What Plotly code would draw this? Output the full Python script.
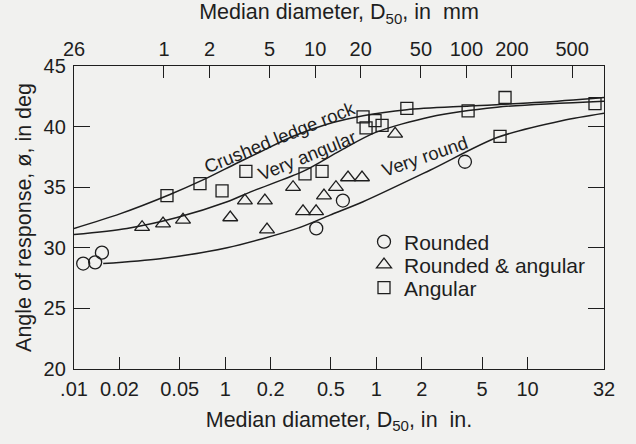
import math
import plotly.graph_objects as go

# ---- data (D50 in inches, angle in degrees) ----
rounded_x = [0.0115, 0.0138, 0.0153, 0.40, 0.60, 3.85]
rounded_y = [28.7, 28.8, 29.6, 31.6, 33.9, 37.1]

mixed_x = [0.0282, 0.0388, 0.0526, 0.108, 0.135, 0.183, 0.189, 0.281, 0.327, 0.399, 0.450, 0.540, 0.649, 0.803, 1.33]
mixed_y = [31.7, 32.0, 32.3, 32.5, 33.9, 33.9, 31.5, 35.0, 33.0, 33.0, 34.3, 35.0, 35.8, 35.8, 39.4]

angular_x = [0.0412, 0.0681, 0.0953, 0.137, 0.337, 0.437, 0.816, 0.979, 0.854, 1.09, 1.59, 4.04, 7.09, 6.57, 27.9]
angular_y = [34.3, 35.3, 34.7, 36.3, 36.1, 36.3, 40.8, 40.5, 39.9, 40.1, 41.5, 41.3, 42.4, 39.2, 41.9]

crushed_x = [0.01, 0.0201, 0.0431, 0.0713, 0.120, 0.170, 0.281, 0.471, 0.816, 1.59, 4.16, 12.1, 32.0]
crushed_y = [31.6, 32.8, 34.4, 35.6, 37.0, 37.9, 39.2, 40.2, 40.9, 41.4, 41.7, 42.0, 42.4]

vangular_x = [0.01, 0.0224, 0.0480, 0.103, 0.153, 0.327, 0.574, 0.979, 2.26, 6.28, 32.0]
vangular_y = [31.1, 31.6, 32.5, 33.8, 34.7, 36.3, 38.0, 39.5, 40.8, 41.6, 42.1]

vround_x = [0.0156, 0.0371, 0.103, 0.299, 0.493, 0.816, 2.26, 6.28, 17.1, 32.0]
vround_y = [28.7, 29.1, 30.0, 31.6, 32.7, 33.8, 36.4, 39.1, 40.5, 41.1]

in_ticks = [0.01, 0.02, 0.05, 0.1, 0.2, 0.5, 1, 2, 5, 10, 32]
in_labels = [".01", "0.02", "0.05", "1", "0.2", "0.5", "1", "2", "5", "10", "32"]
mm_ticks = [0.254, 1, 2, 5, 10, 20, 50, 100, 200, 500]
mm_labels = ["26", "1", "2", "5", "10", "20", "50", "100", "200", "500"]
y_ticks = [20, 25, 30, 35, 40, 45]

INK = "#1e1e1e"
BG = "#f1f1ef"
FONT = "Liberation Sans, Arial, sans-serif"

fig = go.Figure()

line_style = dict(color=INK, width=1.5, shape="spline", smoothing=0.8)
for xs, ys in [(crushed_x, crushed_y), (vangular_x, vangular_y), (vround_x, vround_y)]:
    fig.add_trace(go.Scatter(x=xs, y=ys, mode="lines", line=line_style,
                             showlegend=False, hoverinfo="skip"))

mk_line = dict(width=1.3, color=INK)
fig.add_trace(go.Scatter(x=rounded_x, y=rounded_y, mode="markers", name="Rounded", legend="legend",
                         marker=dict(symbol="circle-open", size=13, color=INK, line=mk_line)))
fig.add_trace(go.Scatter(x=mixed_x, y=mixed_y, mode="markers", name="Rounded & angular", legend="legend2",
                         marker=dict(symbol="triangle-up-open", size=13, color=INK, line=mk_line)))
fig.add_trace(go.Scatter(x=angular_x, y=angular_y, mode="markers", name="Angular", legend="legend3",
                         marker=dict(symbol="square-open", size=12, color=INK, line=mk_line)))

# dummy trace so the top (mm) axis is drawn
fig.add_trace(go.Scatter(x=mm_ticks, y=[None] * len(mm_ticks), xaxis="x2", mode="lines",
                         showlegend=False, hoverinfo="skip"))

axis_common = dict(showgrid=False, zeroline=False, showline=True, linecolor=INK, linewidth=1.3,
                   ticks="inside", tickcolor=INK, tickwidth=1.3,
                   tickfont=dict(family=FONT, size=20, color=INK))

L, R, T, B = 74, 604, 66, 369
W, H = R - L, B - T


def px(x):
    return (x - L) / W


def py(y):
    return (B - y) / H


legend_common = dict(xanchor="left", yanchor="middle", bgcolor="rgba(0,0,0,0)",
                     font=dict(family=FONT, size=21, color=INK), itemwidth=30, borderwidth=0)

fig.update_layout(
    width=636, height=444,
    margin=dict(l=L, r=636 - R, t=T, b=444 - B, autoexpand=False),
    paper_bgcolor=BG, plot_bgcolor=BG,
    font=dict(family=FONT, color=INK, size=20),
    xaxis=dict(type="log", range=[-2, math.log10(32)], tickvals=in_ticks, ticktext=in_labels,
               ticklen=12, ticklabelstandoff=2,
               title=dict(text="Median diameter, D<sub>50</sub>, in  in.", font=dict(size=21.5), standoff=12),
               **axis_common),
    xaxis2=dict(type="log", overlaying="x", side="top", anchor="y",
                range=[math.log10(0.254), math.log10(32 * 25.4)],
                tickvals=mm_ticks, ticktext=mm_labels, ticklen=12, ticklabelstandoff=1,
                title=dict(text="Median diameter, D<sub>50</sub>, in  mm", font=dict(size=21.5), standoff=12),
                **axis_common),
    yaxis=dict(range=[20, 45], tickvals=y_ticks, ticklen=16, mirror="ticks", ticklabelstandoff=3,
               title=dict(text="Angle of response, ø, in deg", font=dict(size=21.5), standoff=6),
               **axis_common),
    legend=dict(x=px(364), y=py(242), **legend_common),
    legend2=dict(x=px(364), y=py(265), **legend_common),
    legend3=dict(x=px(364), y=py(288), **legend_common),
    annotations=[
        dict(text="Crushed ledge rock", x=px(279), y=py(137), xref="paper", yref="paper",
             xanchor="center", yanchor="middle",
             showarrow=False, textangle=-22, font=dict(size=18.5, family=FONT, color=INK)),
        dict(text="Very angular", x=px(307), y=py(155), xref="paper", yref="paper",
             xanchor="center", yanchor="middle",
             showarrow=False, textangle=-22, font=dict(size=18.5, family=FONT, color=INK)),
        dict(text="Very round", x=px(424), y=py(156), xref="paper", yref="paper",
             xanchor="center", yanchor="middle",
             showarrow=False, textangle=-19, font=dict(size=18.5, family=FONT, color=INK)),
    ],
)

fig.write_html("out.html",
               config={"displayModeBar": False},
               post_script="document.body.style.margin='0';document.body.style.overflow='hidden';")
